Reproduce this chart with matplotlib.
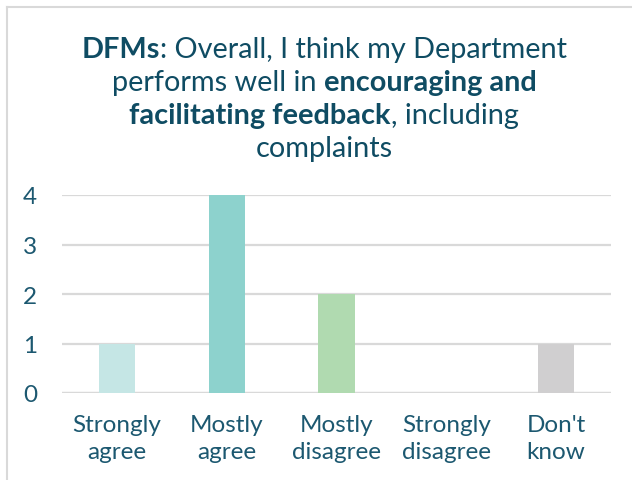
import matplotlib
matplotlib.use("Agg")
import matplotlib.pyplot as plt
from matplotlib.lines import Line2D

# --- data ---
categories = ["Strongly\nagree", "Mostly\nagree", "Mostly\ndisagree", "Strongly\ndisagree", "Don't\nknow"]
counts = [1, 4, 2, 0, 1]
bar_colors = ["#C5E6E5", "#8DD2CD", "#B0DAB0", "#A8A8A8", "#D0CFD0"]
y_ticks = [0, 1, 2, 3, 4]

# title lines, each a list of (text, is_bold)
title_lines = [
    [("DFMs", True), (": Overall, I think my Department", False)],
    [("performs well in", False), (" ", False), ("encouraging and", True)],
    [("facilitating feedback", True), (", including", False)],
    [("complaints", False)],
]

TEXT_COLOR = "#0F4C63"
TICK_COLOR = "#1C5870"
GRID_COLOR = "#D9D9D9"
FONT = "Lato"

plt.rcParams["font.family"] = [FONT, "DejaVu Sans"]

fig = plt.figure(figsize=(6.32, 4.81), dpi=100)
ax = fig.add_axes([62 / 632, 1 - 394 / 481, 549 / 632, 198 / 481])

x = list(range(len(categories)))
ax.bar(x, counts, width=0.33, color=bar_colors, zorder=2)
ax.set_xlim(-0.5, len(categories) - 0.5)
ax.set_ylim(0, 4)
ax.set_yticks(y_ticks)
ax.set_xticks(x)
ax.set_xticklabels(categories, fontsize=17.5, color=TICK_COLOR, linespacing=1.38)
ax.tick_params(axis="y", labelsize=17.5, labelcolor=TICK_COLOR, length=0, pad=18)
ax.tick_params(axis="x", length=0, pad=15)
ax.yaxis.grid(True, color=GRID_COLOR, linewidth=1.6, zorder=0)
ax.set_axisbelow(True)
for s in ax.spines.values():
    s.set_visible(False)
ax.axhline(0, color=GRID_COLOR, linewidth=1.6, zorder=1)

# outer frame on top and left
fig.add_artist(Line2D([7 / 632, 1], [1 - 8 / 481, 1 - 8 / 481], color=GRID_COLOR, linewidth=1.5))
fig.add_artist(Line2D([7 / 632, 7 / 632], [0, 1 - 8 / 481], color=GRID_COLOR, linewidth=1.5))

# title with mixed weights, centred line by line
fig.canvas.draw()
renderer = fig.canvas.get_renderer()
title_size = 20.8
center_x = 324
baselines = [58, 91, 124, 157]


def text_width(s, weight):
    t = fig.text(0, 0, s, fontsize=title_size, fontweight=weight)
    w = t.get_window_extent(renderer).width
    t.remove()
    return w


space_w = text_width("x x", "normal") - text_width("xx", "normal")

for line, base in zip(title_lines, baselines):
    widths = []
    for s, bold in line:
        if s == " ":
            widths.append(space_w)
        else:
            widths.append(text_width(s, "bold" if bold else "normal"))
    total = sum(widths)
    xpos = center_x - total / 2
    for (s, bold), w in zip(line, widths):
        if s != " ":
            fig.text(xpos / 632, 1 - base / 481, s, fontsize=title_size,
                     fontweight="bold" if bold else "normal", color=TEXT_COLOR,
                     va="baseline", ha="left")
        xpos += w

fig.savefig("out.png", dpi=100)
